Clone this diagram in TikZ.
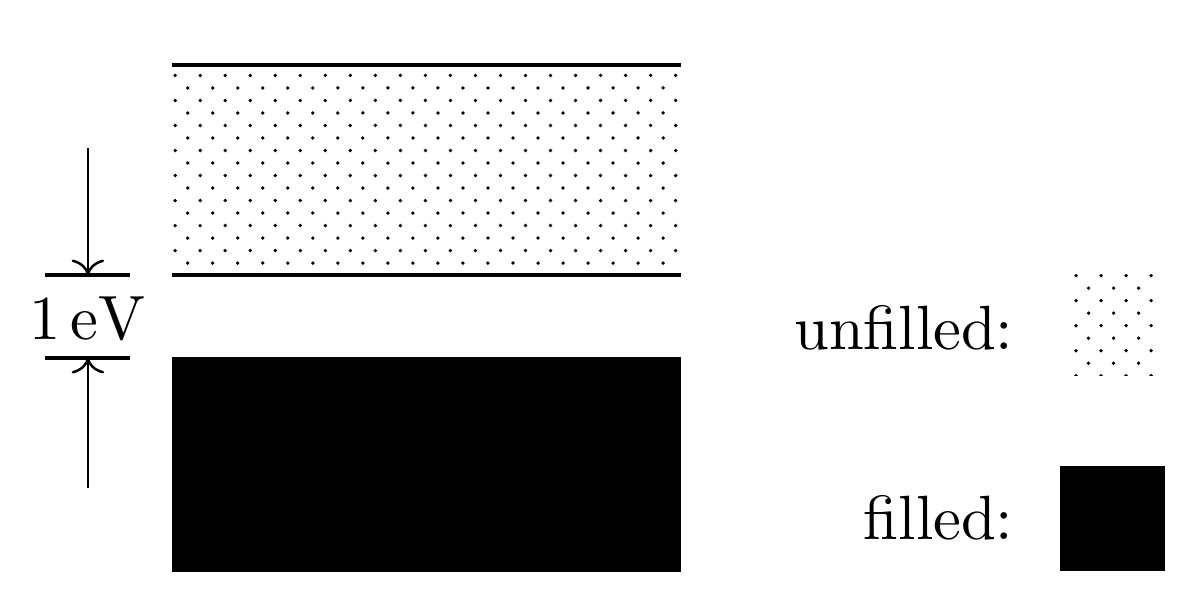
\documentclass[tikz,border=0pt]{standalone}
\usetikzlibrary{arrows.meta,positioning,patterns}

% sparse staggered dots for the empty band
\pgfdeclarepatternformonly{sparse dots}{\pgfqpoint{-1pt}{-1pt}}{\pgfqpoint{5pt}{5pt}}{\pgfqpoint{4pt}{4pt}}%
{
  \pgfpathcircle{\pgfqpoint{0pt}{0pt}}{.3pt}
  \pgfpathcircle{\pgfqpoint{2pt}{2pt}}{.3pt}
  \pgfusepath{fill}
}

\begin{document}
\begin{tikzpicture}[
        bandline/.style={semithick},
        gaptick/.style={semithick},
        legendbox/.style={rectangle, inner sep=0pt, minimum size=0.59cm},
        legendtext/.style={anchor=base east, inner sep=0pt}
      ]
        \useasboundingbox (0,0) rectangle (6.736,3.376);

        % conduction band (unfilled)
        \fill[pattern=sparse dots] (0.966,1.831) rectangle (3.826,3.011);
        \draw[bandline] (0.966,3.011) -- (3.826,3.011);
        \draw[bandline] (0.966,1.831) -- (3.826,1.831);

        % valence band (filled)
        \fill[black] (0.966,0.163) rectangle (3.826,1.371);

        % gap marker
        \coordinate (ctop) at (0.494,1.831);
        \coordinate (cbot) at (0.494,1.365);
        \coordinate (atop) at (0.494,2.545);
        \coordinate (abot) at (0.494,0.635);
        \draw[gaptick] (0.253,1.831) -- (0.730,1.831);
        \draw[gaptick] (0.253,1.365) -- (0.730,1.365);
        \draw[->] (atop) -- (ctop);
        \draw[->] (abot) -- (cbot);
        \node[anchor=base, inner sep=0pt] (gap) at (0.494,1.466) {$1\,\mathrm{eV}$};

        % legend
        \node[legendtext] (unftxt) at (5.70,1.41) {unfilled:};
        \node[legendbox, minimum width=0.5cm, minimum height=0.57cm, pattern=sparse dots] (unfbox) at (6.24,1.551) {};
        \node[legendtext] (filtxt) at (5.70,0.343) {filled:};
        \node[legendbox, fill=black] (filbox) at (6.25,0.463) {};
      \end{tikzpicture}
\end{document}
